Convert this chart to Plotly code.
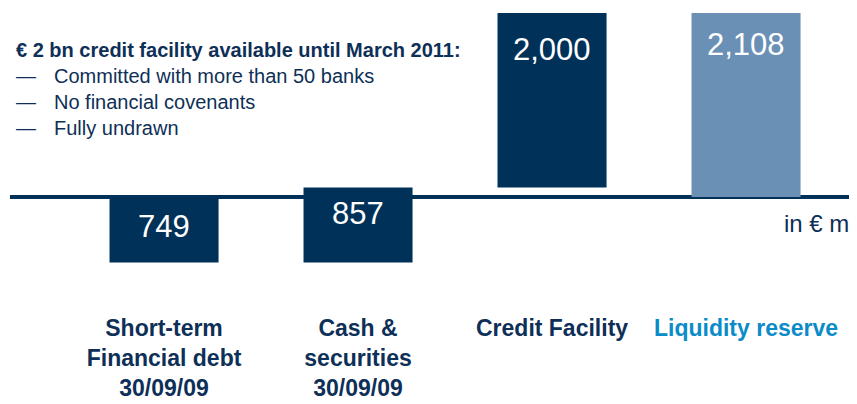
import plotly.graph_objects as go

# ---- data ----
categories = ["Short-term Financial debt", "Cash & securities", "Credit Facility", "Liquidity reserve"]
tick_labels = ["Short-term<br>Financial debt<br>30/09/09",
               "Cash &amp;<br>securities<br>30/09/09",
               "Credit Facility",
               "Liquidity reserve"]
values = [-749, 857, 2000, 2108]
measures = ["relative", "relative", "relative", "total"]
note_title = "€ 2 bn credit facility available until March 2011:"
note_items = ["Committed with more than 50 banks", "No financial covenants", "Fully undrawn"]
unit_label = "in € m"

# ---- style ----
NAVY = "#003159"
LIGHT = "#6a90b6"
TEXT = "#0e2f57"
ACCENT = "#0b8bc7"
FONT = "Liberation Sans"
LABEL_DROP = [10, 6, 17, 12]  # px from bar top to label box top

# page body has an 8px margin; the figure is sized to the visible area
OFF = 8
W, H = 857 - OFF, 404 - OFF
ML, MR, MT, MB = 10 - OFF, 0, 0, H - (312 - OFF)
pw, ph = W - ML - MR, H - MT - MB


def px_to_paper(xp, yp):
    """reference-page pixel -> paper coordinates"""
    return (xp - OFF - ML) / pw, 1 - (yp - OFF - MT) / ph


colored_ticks = [t if i < 3 else f"<span style='color:{ACCENT}'>{t}</span>"
                 for i, t in enumerate(tick_labels)]

fig = go.Figure(go.Waterfall(
    x=categories, y=values, measure=measures,
    width=0.562,
    increasing=dict(marker=dict(color=NAVY)),
    decreasing=dict(marker=dict(color=NAVY)),
    totals=dict(marker=dict(color=LIGHT)),
    connector=dict(visible=False),
    textinfo="none", hoverinfo="skip",
))

# value labels, placed at the top of each bar (computed from the data)
running = 0
annotations = []
for i, (c, v, m) in enumerate(zip(categories, values, measures)):
    if m == "relative":
        start, end = running, running + v
        running = end
    else:
        start, end = 0, running
    top = max(start, end)
    annotations.append(dict(
        x=c, y=top, xref="x", yref="y", yanchor="top", xanchor="center",
        yshift=-LABEL_DROP[i], showarrow=False,
        text=f"{abs(v):,}", font=dict(family=FONT, size=31, color="white")))

x0, y0 = px_to_paper(14, 37)
annotations.append(dict(
    x=x0, y=y0, xref="paper", yref="paper", showarrow=False,
    text=f"<b>{note_title}</b>", xanchor="left", yanchor="top",
    font=dict(family=FONT, size=20, color=TEXT)))
x1, y1 = px_to_paper(14, 63)
annotations.append(dict(
    x=x1, y=y1, xref="paper", yref="paper", showarrow=False,
    text="<br>".join("—" for _ in note_items), xanchor="left", yanchor="top", align="left",
    font=dict(family=FONT, size=20, color=TEXT)))
x2, y2 = px_to_paper(52, 63)
annotations.append(dict(
    x=x2, y=y2, xref="paper", yref="paper", showarrow=False,
    text="<br>".join(note_items), xanchor="left", yanchor="top", align="left",
    font=dict(family=FONT, size=20, color=TEXT)))
x3, y3 = px_to_paper(851, 208)
annotations.append(dict(
    x=x3, y=y3, xref="paper", yref="paper", showarrow=False,
    text=unit_label, xanchor="right", yanchor="top",
    font=dict(family=FONT, size=24, color=TEXT)))

# y scale: baseline at page y=197, ~0.0873 px per € m
SCALE = 0.0873
y_top = (197 - OFF - MT) / SCALE
y_bot = -((312 - OFF) - (197 - OFF)) / SCALE

fig.update_layout(
    width=W, height=H,
    margin=dict(l=ML, r=MR, t=MT, b=MB, autoexpand=False),
    paper_bgcolor="white", plot_bgcolor="white",
    showlegend=False,
    annotations=annotations,
    xaxis=dict(range=[-0.794, 3.572], showgrid=False, zeroline=False, showline=False,
               ticks="", tickmode="array", tickvals=categories, ticktext=colored_ticks,
               tickfont=dict(family=FONT, size=23, color=TEXT, weight="bold"),
               automargin=False, fixedrange=True),
    yaxis=dict(range=[y_bot, y_top], showgrid=False, showticklabels=False, ticks="",
               zeroline=True, zerolinecolor=NAVY, zerolinewidth=4, showline=False,
               automargin=False, fixedrange=True),
)

fig.write_html("out.html")
